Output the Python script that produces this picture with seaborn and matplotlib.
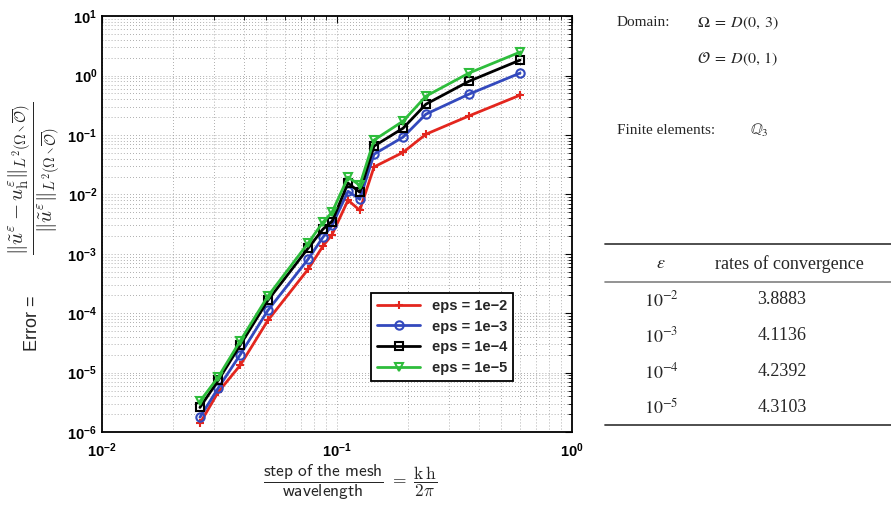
import numpy as np
import pandas as pd
import seaborn as sns
import matplotlib
matplotlib.use("Agg")
import matplotlib.pyplot as plt
from matplotlib.ticker import LogLocator, FuncFormatter, NullFormatter
from matplotlib.lines import Line2D

# step of the mesh / wavelength
step = [0.0261, 0.0312, 0.0387, 0.0508, 0.0753, 0.0871, 0.0952,
        0.1114, 0.125, 0.1437, 0.191, 0.239, 0.364, 0.601]

err_1e2 = [1.4e-6, 4.7e-6, 1.33e-5, 7.6e-5, 5.5e-4, 1.35e-3, 2.1e-3,
           8.0e-3, 5.4e-3, 2.9e-2, 5.1e-2, 0.103, 0.209, 0.468]
err_1e3 = [1.78e-6, 5.5e-6, 2.0e-5, 1.12e-4, 8.1e-4, 1.9e-3, 3.0e-3,
           1.13e-2, 8.3e-3, 4.75e-2, 9.2e-2, 0.224, 0.486, 1.10]
err_1e4 = [2.6e-6, 7.4e-6, 2.9e-5, 1.65e-4, 1.24e-3, 2.6e-3, 3.5e-3,
           1.55e-2, 1.09e-2, 6.5e-2, 0.13, 0.33, 0.80, 1.82]
err_1e5 = [3.3e-6, 8.4e-6, 3.4e-5, 1.94e-4, 1.51e-3, 3.4e-3, 5.0e-3,
           1.95e-2, 1.43e-2, 8.2e-2, 0.171, 0.45, 1.10, 2.48]

labels = ["eps = 1e\u22122", "eps = 1e\u22123", "eps = 1e\u22124", "eps = 1e\u22125"]
colors = ["#e3261e", "#3349bd", "#000000", "#2ebd3c"]
markers = ["+", "o", "s", "v"]

eps_exp = [-2, -3, -4, -5]
rates = ["3.8883", "4.1136", "4.2392", "4.3103"]

sns.set_theme(style="white")
plt.rcParams["font.family"] = ["Liberation Sans", "DejaVu Sans"]
plt.rcParams["mathtext.fontset"] = "custom"
plt.rcParams["mathtext.bf"] = "Liberation Sans:bold"
plt.rcParams["mathtext.rm"] = "Liberation Sans"

fig = plt.figure(figsize=(8.91, 5.12), dpi=100)
ax = fig.add_axes([0.1145, 0.156, 0.5275, 0.8125])

for errs, lab, col, mk in zip([err_1e2, err_1e3, err_1e4, err_1e5], labels, colors, markers):
    df = pd.DataFrame({"step": step, "error": errs})
    sns.lineplot(data=df, x="step", y="error", ax=ax, color=col, marker=mk,
                 markersize=6, mfc="none", mec=col, mew=1.5, linewidth=2.0,
                 label=lab)

ax.set_xscale("log")
ax.set_yscale("log")
ax.set_xlim(1e-2, 1)
ax.set_ylim(1e-6, 10)

ax.xaxis.set_major_locator(LogLocator(base=10, numticks=20))
ax.yaxis.set_major_locator(LogLocator(base=10, numticks=20))
ax.xaxis.set_minor_locator(LogLocator(base=10, subs=np.arange(2, 10), numticks=100))
ax.yaxis.set_minor_locator(LogLocator(base=10, subs=np.arange(2, 10), numticks=100))
fmt = FuncFormatter(lambda v, p: r"$\mathbf{10^{%d}}$" % round(np.log10(v)))
ax.xaxis.set_major_formatter(fmt)
ax.yaxis.set_major_formatter(fmt)
ax.xaxis.set_minor_formatter(NullFormatter())
ax.yaxis.set_minor_formatter(NullFormatter())

ax.grid(True, which="both", linestyle=(0, (1, 3)), color="0.5", linewidth=0.55)
ax.tick_params(which="both", direction="in", top=True, right=True, colors="black")
ax.tick_params(which="major", length=5, width=0.8, labelsize=10.5)
ax.tick_params(which="minor", length=3, width=0.6)
ax.tick_params(axis="x", pad=7)
for s in ax.spines.values():
    s.set_color("black")
    s.set_linewidth(1.3)
ax.set_xlabel("")
ax.set_ylabel("")

leg = ax.legend(loc="upper left", bbox_to_anchor=(0.572, 0.334), borderaxespad=0,
                fancybox=False, framealpha=1, edgecolor="black", handlelength=3.0,
                prop={"weight": "bold", "size": 10.5}, labelspacing=0.45)
leg.get_frame().set_linewidth(1.3)

# axis labels
fig.text(0.036, 0.369, "Error =", rotation=90, ha="center", va="center", fontsize=13)
fig.text(0.038, 0.652,
         r"$\dfrac{\Vert\tilde{u}^{\varepsilon}-u_{\mathrm{h}}^{\varepsilon}\Vert_{L^2(\Omega\setminus\overline{\mathcal{O}})}}"
         r"{\Vert\tilde{u}^{\varepsilon}\Vert_{L^2(\Omega\setminus\overline{\mathcal{O}})}}$",
         rotation=90, ha="center", va="center", fontsize=15, math_fontfamily="cm")
fig.text(0.393, 0.058,
         r"$\dfrac{\mathsf{step\ of\ the\ mesh}}{\mathsf{wavelength}}\ =\ \dfrac{\mathrm{k\,h}}{2\pi}$",
         ha="center", va="center", fontsize=12.5, math_fontfamily="cm")

# right-hand annotations
serif = ["Liberation Serif", "DejaVu Serif"]
fig.text(617 / 891, 1 - 23 / 512, "Domain:", family=serif, fontsize=11, va="center")
fig.text(697 / 891, 1 - 23 / 512, r"$\mathit{\Omega}\;=\;D(0,\,3)$", fontsize=11.5, va="center", math_fontfamily="stix")
fig.text(697 / 891, 1 - 59 / 512, r"$\mathcal{O}\;=\;D(0,\,1)$", fontsize=11.5, va="center", math_fontfamily="stix")
fig.text(617 / 891, 1 - 130 / 512, "Finite elements:", family=serif, fontsize=11, va="center")
fig.text(750 / 891, 1 - 130 / 512, r"$\mathbb{Q}_3$", fontsize=11.5, va="center", math_fontfamily="stix")

# table of convergence rates
def hline(ypx, lw, col):
    fig.add_artist(Line2D([605 / 891, 1.0], [1 - ypx / 512] * 2, transform=fig.transFigure,
                          color=col, linewidth=lw))

hline(244, 1.3, "0.25")
hline(282, 1.2, "0.5")
hline(425, 1.3, "0.25")
fig.text(661 / 891, 1 - 264 / 512, r"$\varepsilon$", fontsize=13, ha="center", va="center", math_fontfamily="stix")
fig.text(789 / 891, 1 - 264 / 512, "rates of convergence", family=serif, fontsize=13, ha="center", va="center")
for i, (e, r) in enumerate(zip(eps_exp, rates)):
    ypx = 300 + i * 36
    fig.text(661 / 891, 1 - ypx / 512, r"$\mathrm{10^{%d}}$" % e, fontsize=13, ha="center", va="center",
             math_fontfamily="stix")
    fig.text(782 / 891, 1 - ypx / 512, r, family=serif, fontsize=13, ha="center", va="center")

fig.savefig("out.png", dpi=100)
